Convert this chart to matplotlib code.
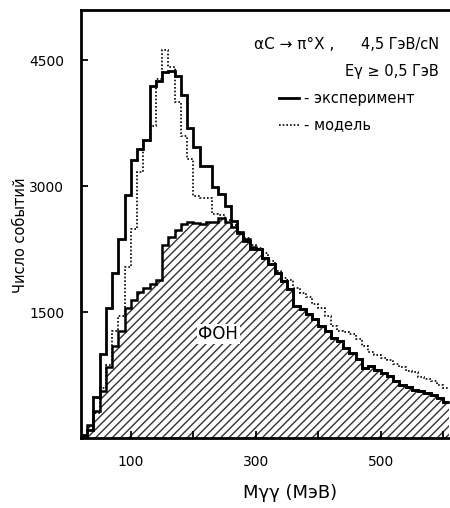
import numpy as np
import matplotlib
matplotlib.use("Agg")
import matplotlib.pyplot as plt
from matplotlib.lines import Line2D

# bin edges: 10 MeV bins from 20 to 610 MeV
edges = np.arange(20, 620, 10)

# experiment (solid)
exp_counts = [40, 100, 490, 1000, 1550, 1970, 2370, 2900, 3310, 3450,
              3550, 4200, 4260, 4360, 4380, 4320, 4085, 3690, 3466, 3245,
              3245, 2986, 2908, 2767, 2588, 2448, 2349, 2250, 2250, 2149,
              2074, 1970, 1870, 1771, 1572, 1532, 1472, 1413, 1333, 1273,
              1193, 1153, 1074, 1014, 935, 834, 855, 815, 775, 735,
              680, 636, 610, 576, 556, 536, 516, 476, 430]

# model (dotted)
model_counts = [20, 100, 300, 600, 875, 1273, 1452, 2040, 2490, 3165,
                3544, 3720, 4280, 4630, 4420, 4000, 3600, 3330, 2880, 2860,
                2860, 2670, 2660, 2600, 2540, 2460, 2380, 2300, 2270, 2200,
                2110, 1990, 1910, 1880, 1790, 1731, 1680, 1600, 1550, 1450,
                1340, 1270, 1260, 1240, 1180, 1100, 1030, 990, 950, 930,
                880, 840, 800, 780, 730, 700, 680, 630, 600]

# background (hatched)
bg_counts = [20, 150, 320, 560, 840, 1100, 1270, 1550, 1640, 1740,
             1790, 1830, 1880, 2300, 2400, 2480, 2550, 2570, 2560, 2550,
             2570, 2580, 2620, 2570, 2520, 2460, 2370, 2280, 2250, 2149,
             2074, 1970, 1870, 1771, 1572, 1532, 1472, 1413, 1333, 1273,
             1193, 1153, 1074, 1014, 935, 834, 855, 815, 775, 735,
             680, 636, 610, 576, 556, 536, 516, 476, 430]

plt.rcParams['hatch.linewidth'] = 1.0
fig = plt.figure(figsize=(4.5, 5.08), dpi=100)
ax = fig.add_axes([0.18, 0.138, 0.82, 0.842])

ax.stairs(bg_counts, edges, fill=True, hatch='////', facecolor='white',
          edgecolor='#333333', linewidth=0)
ax.stairs(bg_counts, edges, baseline=None, color='black', linewidth=1.8)
ax.stairs(model_counts, edges, baseline=None, color='black', linewidth=1.2,
          linestyle=(0, (1, 1.2)))
ax.stairs(exp_counts, edges, baseline=None, color='black', linewidth=2.0)

ax.text(240, 1240, 'ФОН', fontsize=12, ha='center', va='center',
        bbox=dict(facecolor='white', edgecolor='none', pad=1))

ax.set_xlim(20, 611)
ax.set_ylim(0, 5100)
ax.set_xticks([100, 300, 500])
ax.set_xticks([200, 400, 600], minor=True)
ax.set_yticks([1500, 3000, 4500])
ax.tick_params(which='both', direction='in', length=5, width=1.3,
               labelsize=10, top=False, right=False)
ax.tick_params(axis='x', pad=12)
ax.tick_params(axis='y', pad=12)
for s in ['left', 'bottom', 'top']:
    ax.spines[s].set_linewidth(2.0)
ax.spines['right'].set_visible(False)

fig.text(0.045, 0.537, 'Число событий', rotation=90, fontsize=10.5,
         ha='center', va='center')
fig.text(0.645, 0.03, 'Mγγ (MэВ)', fontsize=13, ha='center', va='center')

fig.text(0.565, 0.913, 'αC → π°X ,', fontsize=11, ha='left', va='center')
fig.text(0.975, 0.913, '4,5 ГэВ/cN', fontsize=10.5, ha='right', va='center')
fig.text(0.975, 0.860, 'Eγ ≥ 0,5 ГэВ', fontsize=10.5, ha='right', va='center')
fig.text(0.675, 0.807, '- эксперимент', fontsize=10.5, ha='left', va='center')
fig.text(0.675, 0.754, '- модель', fontsize=10.5, ha='left', va='center')
fig.add_artist(Line2D([0.62, 0.665], [0.807, 0.807], color='black',
                      linewidth=2.0, transform=fig.transFigure))
fig.add_artist(Line2D([0.62, 0.665], [0.754, 0.754], color='black',
                      linewidth=1.2, linestyle=(0, (1, 1.2)),
                      transform=fig.transFigure))

fig.savefig('out.png', dpi=100)
